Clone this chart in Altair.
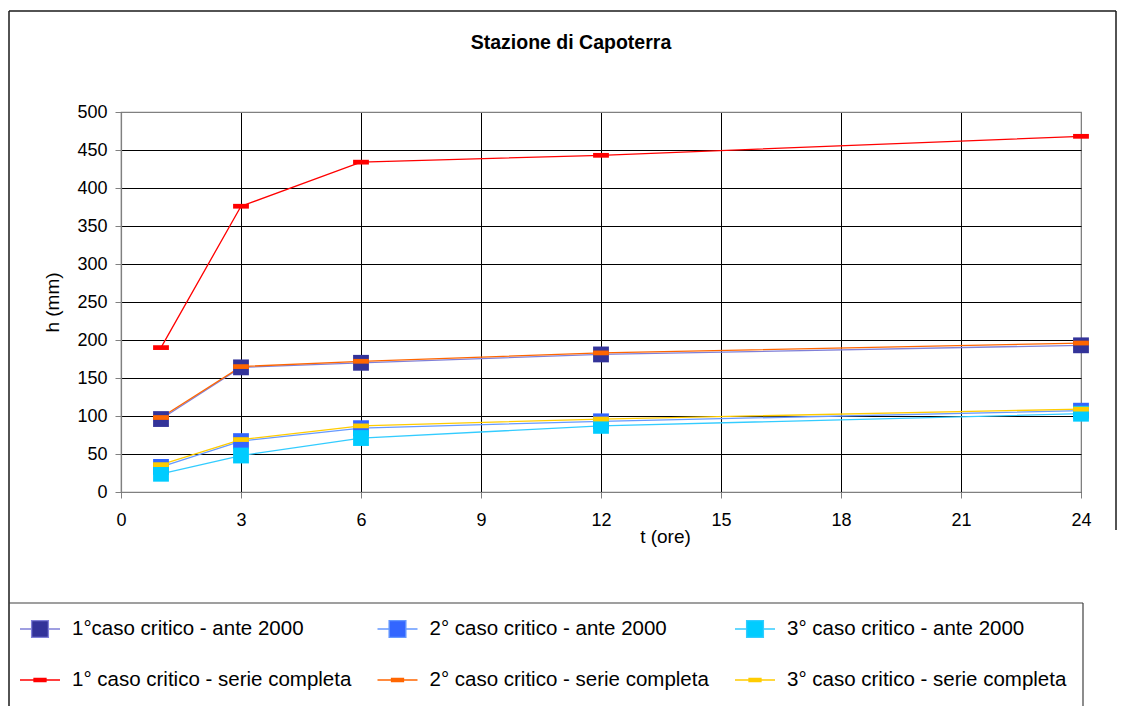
import altair as alt
import pandas as pd

# ---------------- data ----------------
t_hours = [1, 3, 6, 12, 24]
series_names = [
    "1°caso critico - ante 2000",
    "2° caso critico - ante 2000",
    "3° caso critico - ante 2000",
    "1° caso critico  - serie completa",
    "2° caso critico - serie completa",
    "3° caso critico - serie completa",
]
h_ante_1 = [96, 164, 170, 181, 193]
h_ante_2 = [33, 67, 84, 93, 107]
h_ante_3 = [24, 48, 71, 87, 103]
h_comp_1 = [190, 376, 434, 443, 468]
h_comp_2 = [98, 165, 172, 183, 196]
h_comp_3 = [36, 69, 87, 96, 109]
all_values = [h_ante_1, h_ante_2, h_ante_3, h_comp_1, h_comp_2, h_comp_3]

x_ticks = [0, 3, 6, 9, 12, 15, 18, 21, 24]
y_ticks = [0, 50, 100, 150, 200, 250, 300, 350, 400, 450, 500]

# legend grid slots (column, row) of each series
legend_col = [0, 1, 2, 0, 1, 2]
legend_row = [0, 0, 0, 1, 1, 1]

# ---------------- styles ----------------
marker_colors = ["#333399", "#3366FF", "#00CCFF", "#FF0000", "#FF6600", "#FFCC00"]
line_colors = ["#8080D8", "#6699FF", "#33CCFF", "#FF0000", "#FF6600", "#FFCC00"]
dash_path = "M-1,-0.3L1,-0.3L1,0.3L-1,0.3Z"
marker_shapes = ["square", "square", "square", dash_path, dash_path, dash_path]
marker_sizes = [250, 250, 250, 121, 49, 110]

legend_sq = "M-1,0L-0.42,0M0.42,0L1,0M-0.42,-0.42L0.42,-0.42L0.42,0.42L-0.42,0.42Z"
legend_dash = "M-1,0L1,0M-0.3,-0.075L0.3,-0.075L0.3,0.075L-0.3,0.075Z"
legend_shapes = [legend_sq, legend_sq, legend_sq, legend_dash, legend_dash, legend_dash]

rows = []
for name, vals in zip(series_names, all_values):
    for t, h in zip(t_hours, vals):
        rows.append({"series": name, "t": t, "h": h})
df = pd.DataFrame(rows)
legend_df = pd.DataFrame({"series": series_names, "col": legend_col, "row": legend_row})

FONT = "Liberation Sans"

x_enc = alt.X(
    "t:Q",
    scale=alt.Scale(domain=[0, 24], nice=False, zero=False),
    axis=alt.Axis(
        values=x_ticks,
        tickCount=30,
        title="t (ore)",
        titleX=544,
        titleY=44,
        titleBaseline="middle",
        titleAlign="center",
        labelFlush=False,
        labelOverlap=False,
        gridColor={"condition": {"test": "datum.value === 24", "value": "#808080"}, "value": "#000000"},
    ),
)
y_enc = alt.Y(
    "h:Q",
    scale=alt.Scale(domain=[0, 500], nice=False),
    axis=alt.Axis(
        values=y_ticks,
        tickCount=30,
        title="h (mm)",
        titleX=-59,
        titleY=190,
        titleAlign="center",
        labelFlush=False,
        labelOverlap=False,
        gridColor={"condition": {"test": "datum.value === 500", "value": "#808080"}, "value": "#000000"},
    ),
)

one = pd.DataFrame({"k": [0]})
frame_top = alt.Chart(one).mark_rule(color="#1a1a1a", strokeWidth=1.5).encode(
    x=alt.value(-112), x2=alt.value(995), y=alt.value(-101))
frame_left = alt.Chart(one).mark_rule(color="#1a1a1a", strokeWidth=1.5).encode(
    x=alt.value(-112), y=alt.value(-101), y2=alt.value(620))
frame_right = alt.Chart(one).mark_rule(color="#1a1a1a", strokeWidth=1.5).encode(
    x=alt.value(995), y=alt.value(-101), y2=alt.value(418))
box_top = alt.Chart(one).mark_rule(color="#404040", strokeWidth=1.2).encode(
    x=alt.value(-112), x2=alt.value(962), y=alt.value(491))
box_right = alt.Chart(one).mark_rule(color="#404040", strokeWidth=1.2).encode(
    x=alt.value(962), y=alt.value(491), y2=alt.value(620))

lines = (
    alt.Chart(df)
    .mark_line(strokeWidth=1.3)
    .encode(
        x=x_enc,
        y=y_enc,
        color=alt.Color(
            "series:N",
            sort=series_names,
            scale=alt.Scale(domain=series_names, range=line_colors),
            legend=None,
        ),
    )
)

points = (
    alt.Chart(df)
    .mark_point(filled=True, opacity=1, strokeWidth=0)
    .encode(
        x="t:Q",
        y="h:Q",
        color=alt.Color(
            "series:N",
            sort=series_names,
            scale=alt.Scale(domain=series_names, range=marker_colors),
            legend=None,
        ),
        shape=alt.Shape(
            "series:N",
            sort=series_names,
            scale=alt.Scale(domain=series_names, range=marker_shapes),
            legend=None,
        ),
        size=alt.Size(
            "series:N",
            sort=series_names,
            scale=alt.Scale(domain=series_names, range=marker_sizes),
            legend=None,
        ),
    )
)

plot = alt.layer(lines, points).resolve_scale(color="independent")

# ---------------- legend drawn as its own layer, through its own scales ----------------
lx = alt.X("col:Q", scale=alt.Scale(domain=[0, 2], range=[-81, 634], nice=False, zero=False), axis=None)
ly = alt.Y("row:Q", scale=alt.Scale(domain=[0, 1], range=[517, 568], nice=False, zero=False), axis=None)

legend_sym = (
    alt.Chart(legend_df)
    .mark_point(filled=True, opacity=1, strokeWidth=1.3, size=1600)
    .encode(
        x=lx,
        y=ly,
        fill=alt.Fill("series:N", sort=series_names,
                      scale=alt.Scale(domain=series_names, range=marker_colors), legend=None),
        stroke=alt.Stroke("series:N", sort=series_names,
                          scale=alt.Scale(domain=series_names, range=line_colors), legend=None),
        shape=alt.Shape("series:N", sort=series_names,
                        scale=alt.Scale(domain=series_names, range=legend_shapes), legend=None),
    )
)
legend_text = (
    alt.Chart(legend_df)
    .mark_text(align="left", baseline="middle", dx=32, font=FONT, fontSize=20.5, color="#000000")
    .encode(x="col:Q", y="row:Q", text="series:N")
)
legend_layer = alt.layer(legend_sym, legend_text)

chart = (
    alt.layer(frame_top, frame_left, frame_right, box_top, box_right, plot, legend_layer)
    .resolve_scale(x="independent", y="independent", shape="independent")
    .properties(
        width=960,
        height=380,
        autosize="none",
        padding={"left": 121, "top": 112, "right": 41, "bottom": 214},
        background="#FFFFFF",
        title=alt.TitleParams(
            "Stazione di Capoterra",
            font=FONT,
            fontSize=19.5,
            fontWeight="bold",
            color="#000000",
            anchor="middle",
            frame="group",
            offset=0,
            dy=62,
            dx=-30,
            baseline="bottom",
        ),
    )
    .configure_view(stroke="#808080", strokeWidth=1.2)
    .configure_axis(
        labelFont=FONT,
        labelFontSize=18,
        labelColor="#000000",
        titleFont=FONT,
        titleFontSize=19,
        titleFontWeight="normal",
        titleColor="#000000",
        tickSize=6,
        tickColor="#808080",
        domainColor="#808080",
        domainWidth=1.2,
        gridWidth=1,
        gridOpacity=1,
    )
    .configure_axisX(labelPadding=13)
    .configure_axisY(labelPadding=8)
)

chart.save("out.html", embed_options={"renderer": "svg", "actions": False})
